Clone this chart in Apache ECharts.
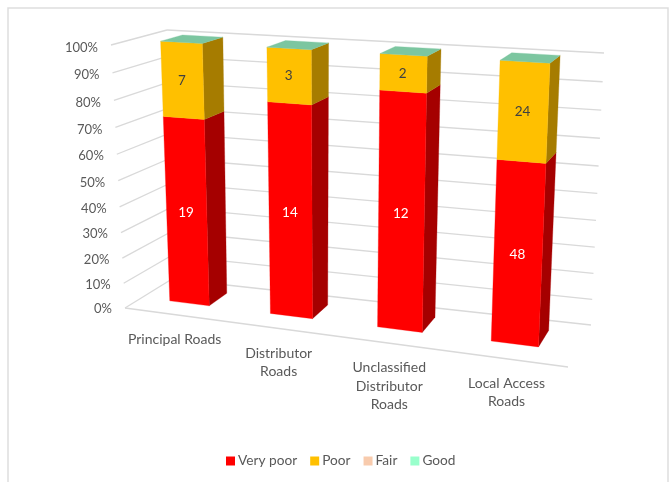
<!DOCTYPE html>
<html>
<head>
<meta charset="utf-8">
<style>html,body{margin:0;padding:0;background:#fff}#c{width:670px;height:482px}</style>
<script src="https://cdn.jsdelivr.net/npm/echarts@6/dist/echarts.min.js"></script>
</head>
<body>
<div id="c"></div>
<script>
const categories = ['Principal Roads', 'Distributor\nRoads', 'Unclassified\nDistributor\nRoads', 'Local Access\nRoads'];
// The printed labels are these values rounded.
const veryPoor = [18.8, 14, 12.4, 47.6];
const poor = [7.2, 3.4, 1.8, 24.4];
const fair = [0, 0, 0, 0];
const good = [0, 0, 0, 0];
const ticks = [0, 10, 20, 30, 40, 50, 60, 70, 80, 90, 100];

const FONT = 'Lato';
const TEXT = '#595959';
const GRID = '#d9d9d9';

// Corners of the 3D plot box on screen: [across, up, towards the viewer]
const box = {
  b00: [172, 279], b10: [591, 325], b01: [167, 30], b11: [604, 53],
  f00: [125, 308], f10: [568, 367], f01: [111, 45], f11: [582, 72.5]
};
const lerp = (a, b, t) => [a[0] + (b[0] - a[0]) * t, a[1] + (b[1] - a[1]) * t];
function project(t, val, w) {
  const u = 0.876 * t + 0.12 * t * t - 0.003 * (1 - t);
  const v = val - 0.064 * val * (1 - val);
  const back = lerp(lerp(box.b00, box.b10, u), lerp(box.b01, box.b11, u), v);
  const front = lerp(lerp(box.f00, box.f10, u), lerp(box.f01, box.f11, u), v);
  return lerp(back, front, w);
}
const W0 = 0.23, W1 = 0.635, BAR = 0.4;

function unit(api, params, catIndex, value) {
  const r = params.coordSys;
  const p = api.coord([catIndex, value]);
  return [(p[0] - r.x) / r.width, 1 - (p[1] - r.y) / r.height];
}

const totals = categories.map((_, i) => veryPoor[i] + poor[i] + fair[i] + good[i]);
function stackData(values, below) {
  return values.map((v, i) => {
    const under = below.reduce((s, arr) => s + arr[i], 0);
    return [i, under / totals[i] * 100, (under + v) / totals[i] * 100, v];
  });
}

function barSeries(name, color, side, top, labelColor, data) {
  return {
    type: 'custom', name, coordinateSystem: 'cartesian2d', data, silent: true, z: 5,
    encode: { x: 0, y: [1, 2] },
    itemStyle: { color },
    renderItem(params, api) {
      const i = api.value(0), a = api.value(1), b = api.value(2), raw = api.value(3);
      const lo = unit(api, params, i, a), hi = unit(api, params, i, b);
      const half = (api.size([1, 0])[0] / params.coordSys.width) * BAR / 2;
      const t0 = lo[0] - half, t1 = lo[0] + half, v0 = lo[1], v1 = hi[1];
      const children = [];
      const poly = (pts, fill) => children.push({
        type: 'polygon', shape: { points: pts },
        style: { fill, stroke: fill, lineWidth: 0.3 }
      });
      if (raw > 0) {
        poly([project(t1, v0, W1), project(t1, v0, W0), project(t1, v1, W0), project(t1, v1, W1)], side);
        poly([project(t0, v0, W1), project(t1, v0, W1), project(t1, v1, W1), project(t0, v1, W1)], color);
        const c = project(lo[0], (v0 + v1) / 2, W1);
        children.push({
          type: 'text', z2: 10,
          style: { x: c[0] - 0.5, y: c[1], text: String(Math.round(raw)), fill: labelColor, font: '13.5px ' + FONT, align: 'center', verticalAlign: 'middle' }
        });
      }
      if (top) {
        poly([project(t0, v1, W1), project(t1, v1, W1), project(t1, v1, W0), project(t0, v1, W0)], top);
      }
      return { type: 'group', children };
    }
  };
}

const wallSeries = {
  type: 'custom', name: 'walls', coordinateSystem: 'cartesian2d', silent: true, z: 1,
  data: ticks.map(t => [0, t]),
  encode: { x: 0, y: 1 },
  renderItem(params, api) {
    const v = unit(api, params, 0, api.value(1))[1];
    const val = (t, w) => project(t, v, w);
    const a = [lerp(box.f00, box.f01, v - 0.064 * v * (1 - v))][0];
    const b = lerp(box.b00, box.b01, v - 0.064 * v * (1 - v));
    const c = lerp(box.b10, box.b11, v - 0.064 * v * (1 - v));
    const line = (p, q) => ({ type: 'line', shape: { x1: p[0], y1: p[1], x2: q[0], y2: q[1] }, style: { stroke: GRID, lineWidth: 1.3 } });
    const children = [line(a, b), line(b, c)];
    if (v === 0) children.push(line(a, box.f10));
    children.push({
      type: 'text',
      style: { x: a[0] - 13, y: a[1] + 1 + 1.5 * v, text: api.value(1) + '%', fill: TEXT, font: '13px ' + FONT, align: 'right', verticalAlign: 'middle' }
    });
    return { type: 'group', children };
  }
};

const labelSeries = {
  type: 'custom', name: 'categories', coordinateSystem: 'cartesian2d', silent: true, z: 2,
  data: categories.map((_, i) => [i, 0]),
  encode: { x: 0, y: 1 },
  renderItem(params, api) {
    const i = api.value(0);
    const p = unit(api, params, i, 0);
    const a = project(p[0], 0, 1);
    return {
      type: 'text',
      style: { x: a[0] + 1.5, y: a[1] + 15.5, text: categories[i], fill: TEXT, font: '14px ' + FONT, lineHeight: 18.5, align: 'center', verticalAlign: 'top' }
    };
  }
};

const chart = echarts.init(document.getElementById('c'), null, { renderer: 'canvas' });
chart.setOption({
  animation: false,
  backgroundColor: '#fff',
  grid: { left: 100, right: 100, top: 100, bottom: 100, show: false },
  xAxis: { type: 'category', data: categories, show: false },
  yAxis: { type: 'value', min: 0, max: 100, interval: 10, show: false },
  legend: {
    data: ['Very poor', 'Poor', 'Fair', 'Good'],
    left: 221, top: 449, icon: 'rect', itemWidth: 9, itemHeight: 9, itemGap: 13,
    selectedMode: false,
    textStyle: { color: TEXT, fontFamily: FONT, fontSize: 13.7, padding: [0, 0, 0, -2] }
  },
  graphic: [{
    type: 'rect', silent: true, z: 0,
    shape: { x: 8, y: 8, width: 660, height: 480 },
    style: { fill: 'none', stroke: '#dedede', lineWidth: 1.5 }
  }],
  series: [
    wallSeries,
    labelSeries,
    barSeries('Very poor', '#FF0000', '#A50000', null, '#FFFFFF', stackData(veryPoor, [])),
    barSeries('Poor', '#FFC000', '#A67C00', null, '#404040', stackData(poor, [veryPoor])),
    barSeries('Fair', '#F8CBAD', '#A18470', null, '#404040', stackData(fair, [veryPoor, poor])),
    barSeries('Good', '#99FFCC', '#63A685', '#7CC6A0', '#404040', stackData(good, [veryPoor, poor, fair]))
  ]
});
</script>
</body>
</html>
